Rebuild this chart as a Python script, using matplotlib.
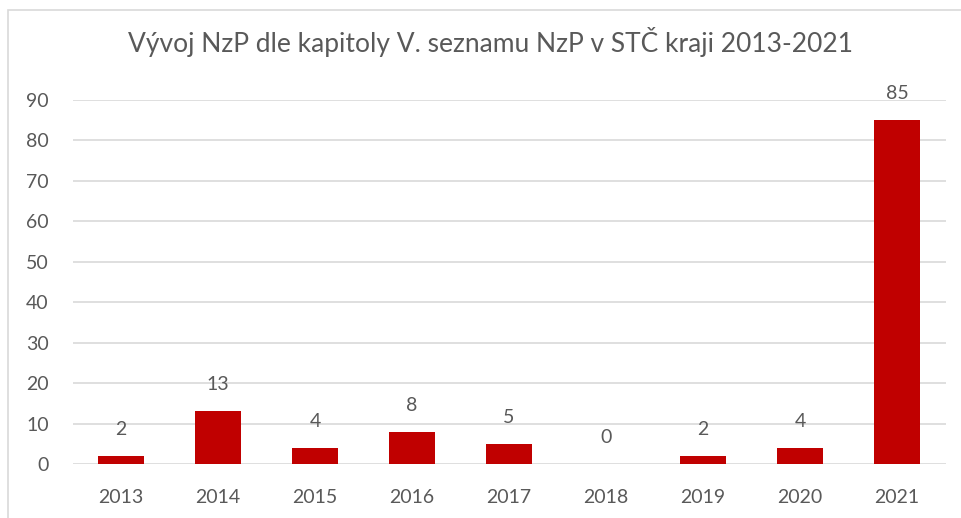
import matplotlib.pyplot as plt
from matplotlib.patches import Rectangle

# data
years = ["2013", "2014", "2015", "2016", "2017", "2018", "2019", "2020", "2021"]
counts = [2, 13, 4, 8, 5, 0, 2, 4, 85]

text_col = "#595959"
plt.rcParams["font.family"] = ["Lato", "DejaVu Sans"]

fig = plt.figure(figsize=(9.61, 5.18), dpi=100)
ax = fig.add_axes([72.5 / 961, 54 / 518, 873 / 961, 364 / 518])

# light chart border like an Excel chart area
fig.patches.append(Rectangle((8 / 961, -0.1), 1.1, (508 / 518) + 0.1,
                             transform=fig.transFigure, fill=False,
                             edgecolor="#D9D9D9", linewidth=1.2))

x = list(range(len(years)))
bars = ax.bar(x, counts, width=0.474, color="#C00000", zorder=3)

for xi, v in zip(x, counts):
    ax.annotate(str(v), (xi, v), xytext=(0, 13), textcoords="offset points",
                ha="center", va="bottom", fontsize=14, color=text_col)

ax.set_xlim(-0.5, len(years) - 0.5)
ax.set_ylim(0, 90)
ax.set_yticks(range(0, 91, 10))
ax.set_xticks(x)
ax.set_xticklabels(years)
ax.tick_params(axis="both", length=0, labelsize=14, labelcolor=text_col)
ax.tick_params(axis="x", pad=18)
ax.tick_params(axis="y", pad=17)
ax.grid(axis="y", color="#D9D9D9", linewidth=1.2, zorder=0)
for s in ax.spines.values():
    s.set_visible(False)

fig.text(490 / 961, 1 - 42 / 518, "Vývoj NzP dle kapitoly V. seznamu NzP v STČ kraji 2013-2021",
         ha="center", va="center", fontsize=19, color=text_col)

fig.savefig("out.png", dpi=100)
